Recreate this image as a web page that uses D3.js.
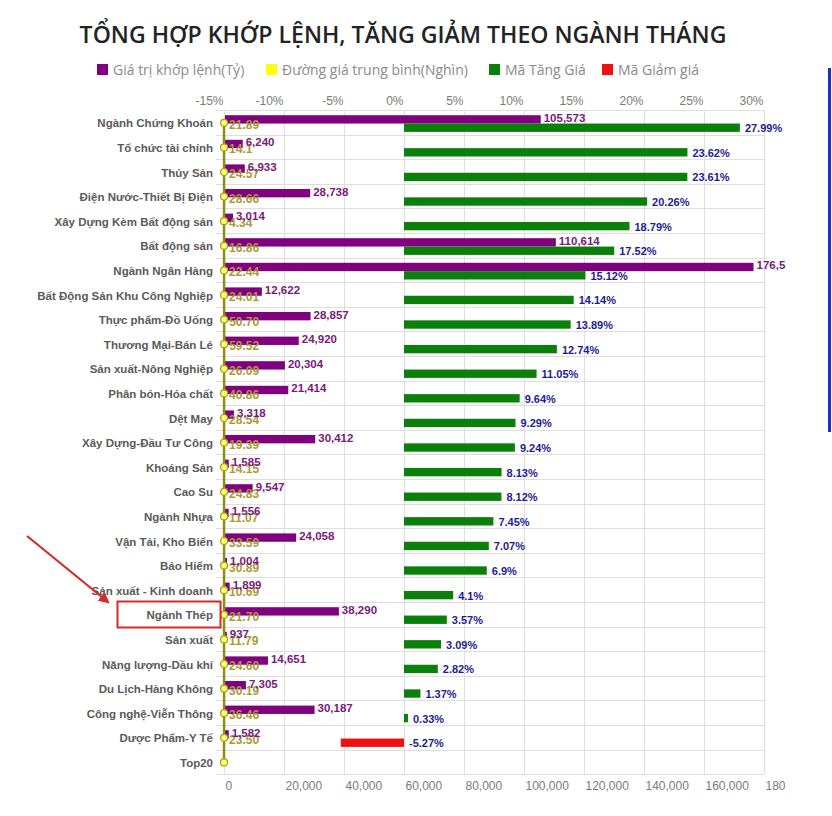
<!DOCTYPE html>
<html>
<head>
<meta charset="utf-8">
<script src="https://cdn.jsdelivr.net/npm/d3@7/dist/d3.min.js"></script>
<style>
  html, body { margin: 0; padding: 0; background: #fff; }
  svg { display: block; }
</style>
</head>
<body>
<svg id="chart" width="832" height="816"></svg>
<script>
// ---------------- DATA ----------------
const title = "TỔNG HỢP KHỚP LỆNH, TĂNG GIẢM THEO NGÀNH THÁNG";
const legendLabels = ["Giá trị khớp lệnh(Tỷ)", "Đường giá trung bình(Nghìn)", "Mã Tăng Giá", "Mã Giảm giá"];
const legendColors = ["#800080", "#ffff00", "#0a800a", "#ee1111"];

const categories = [
  "Ngành Chứng Khoán", "Tổ chức tài chính", "Thủy Sản", "Điện Nước-Thiết Bị Điện",
  "Xây Dựng Kèm Bất động sản", "Bất động sản", "Ngành Ngân Hàng", "Bất Động Sản Khu Công Nghiệp",
  "Thực phẩm-Đồ Uống", "Thương Mại-Bán Lẻ", "Sản xuất-Nông Nghiệp", "Phân bón-Hóa chất",
  "Dệt May", "Xây Dựng-Đầu Tư Công", "Khoáng Sản", "Cao Su", "Ngành Nhựa",
  "Vận Tải, Kho Biển", "Bảo Hiểm", "Sản xuất - Kinh doanh", "Ngành Thép", "Sản xuất",
  "Năng lượng-Dầu khí", "Du Lịch-Hàng Không", "Công nghệ-Viễn Thông", "Dược Phẩm-Y Tế", "Top20"
];
const matchValue = [
  105573, 6240, 6933, 28738, 3014, 110614, 176512, 12622, 28857, 24920, 20304, 21414,
  3318, 30412, 1585, 9547, 1556, 24058, 1004, 1899, 38290, 937, 14651, 7305, 30187, 1582, null
];
const avgPrice = [
  21.89, 14.1, 24.57, 28.66, 4.34, 16.86, 22.44, 24.01, 50.70, 59.52, 26.09, 40.86,
  28.54, 19.39, 14.15, 24.83, 11.07, 33.59, 30.89, 10.69, 21.70, 11.79, 24.60, 30.19, 36.46, 23.50, 0
];
const changePct = [
  27.99, 23.62, 23.61, 20.26, 18.79, 17.52, 15.12, 14.14, 13.89, 12.74, 11.05, 9.64,
  9.29, 9.24, 8.13, 8.12, 7.45, 7.07, 6.9, 4.1, 3.57, 3.09, 2.82, 1.37, 0.33, -5.27, null
];
const pctTicks = [-15, -10, -5, 0, 5, 10, 15, 20, 25, 30];
const valTicks = [0, 20000, 40000, 60000, 80000, 100000, 120000, 140000, 160000, 180000];

// ---------------- LAYOUT ----------------
const svg = d3.select("#chart");
const plotL = 224, plotR = 764, plotT = 110, plotB = 774.2;

const xPct = d3.scaleLinear().domain([-15, 30]).range([plotL, plotR]);
const xVal = d3.scaleLinear().domain([0, 180000]).range([plotL, plotR]);
const y = d3.scaleBand().domain(categories).range([plotT, plotB]);
const sub = d3.scaleBand().domain(["val", "pct"]).range([5.2, 21.9]);

const rows = categories.map((c, i) => ({
  cat: c, val: matchValue[i], avg: avgPrice[i], pct: changePct[i]
}));

// Title
const t = svg.append("text")
  .attr("x", 403).attr("y", 43)
  .attr("text-anchor", "middle")
  .attr("font-family", "'Open Sans', 'Noto Sans', sans-serif")
  .attr("font-weight", 600)
  .attr("font-size", 22)
  .attr("fill", "#232323")
  .text(title);
const tw = t.node().getComputedTextLength();
t.attr("font-size", 22 * 647 / tw);

// Legend
const legendX = [97, 266, 489, 602];
const lg = svg.append("g");
legendLabels.forEach((lab, i) => {
  lg.append("rect").attr("x", legendX[i]).attr("y", 64).attr("width", 11).attr("height", 11)
    .attr("fill", legendColors[i]);
  lg.append("text").attr("x", legendX[i] + 16).attr("y", 75)
    .attr("font-family", "'Open Sans', 'Noto Sans', sans-serif")
    .attr("font-size", 14).attr("fill", "#8a8a8a").text(lab);
});

// Clip
svg.append("clipPath").attr("id", "clip").append("rect")
  .attr("x", 0).attr("y", 0).attr("width", 786).attr("height", 816);
const g = svg.append("g").attr("clip-path", "url(#clip)");

// Gridlines
const grid = g.append("g").attr("stroke", "#dedede").attr("stroke-width", 1);
grid.selectAll("line.v").data(pctTicks).join("line")
  .attr("x1", d => Math.round(xPct(d)) + 0.5).attr("x2", d => Math.round(xPct(d)) + 0.5)
  .attr("y1", plotT).attr("y2", plotB);
const hLines = categories.map(c => y(c)).concat([plotB]);
grid.selectAll("line.h").data(hLines).join("line")
  .attr("x1", 216).attr("x2", plotR)
  .attr("y1", d => Math.round(d) + 0.5).attr("y2", d => Math.round(d) + 0.5);

// Axes
const axisFont = "'Liberation Sans', Arial, sans-serif";
const topAxis = g.append("g").attr("transform", `translate(0,${plotT - 5})`)
  .call(d3.axisTop(xPct).tickValues(pctTicks).tickSize(0).tickFormat(d => d + "%"));
topAxis.select(".domain").remove();
topAxis.selectAll("text").attr("text-anchor", "end").attr("dx", -1).attr("dy", 0).attr("y", 0)
  .attr("font-family", axisFont).attr("font-size", 12).attr("fill", "#7a7a7a");

const botAxis = g.append("g").attr("transform", `translate(0,${plotB + 16})`)
  .call(d3.axisBottom(xVal).tickValues(valTicks).tickSize(0).tickFormat(d3.format(",")));
botAxis.select(".domain").remove();
botAxis.selectAll("text").attr("text-anchor", "start").attr("dx", 1).attr("y", 0).attr("dy", 0)
  .attr("font-family", axisFont).attr("font-size", 12).attr("fill", "#7a7a7a");

// Category labels
g.append("g").selectAll("text").data(rows).join("text")
  .attr("x", 213).attr("y", d => y(d.cat) + y.bandwidth() / 2 + 1)
  .attr("dominant-baseline", "central").attr("text-anchor", "end")
  .attr("font-family", axisFont).attr("font-weight", "bold").attr("font-size", 11.5)
  .attr("fill", "#5a5a5a").text(d => d.cat);

// Purple bars
const valRows = rows.filter(d => d.val != null);
g.append("g").selectAll("rect").data(valRows).join("rect")
  .attr("x", xVal(0) + 1).attr("y", d => y(d.cat) + sub("val"))
  .attr("width", d => Math.max(0, xVal(d.val) - xVal(0) - 1))
  .attr("height", sub.bandwidth())
  .attr("fill", "#800080");

// Green / red bars
const pctRows = rows.filter(d => d.pct != null);
g.append("g").selectAll("rect").data(pctRows).join("rect")
  .attr("x", d => xPct(Math.min(0, d.pct)))
  .attr("y", d => y(d.cat) + sub("pct"))
  .attr("width", d => Math.abs(xPct(d.pct) - xPct(0)))
  .attr("height", sub.bandwidth())
  .attr("fill", d => d.pct >= 0 ? "#0a800a" : "#ee1111");

// Average price line
const cy = d => y(d.cat) + y.bandwidth() / 2 + 0.5;
g.append("path").datum(rows)
  .attr("d", d3.line().x(d => xVal(d.avg)).y(cy))
  .attr("fill", "none").attr("stroke", "#8e8e14").attr("stroke-width", 2.5);

// Average price labels
const fmtAvg = v => (Math.round(v * 100) % 10 === 0 && Math.round(v * 100) % 100 !== 0 && v < 15) ? d3.format(".1f")(v) : d3.format(".2f")(v);
g.append("g").selectAll("text").data(rows.filter(d => d.avg > 0)).join("text")
  .attr("x", d => xVal(d.avg) + 5).attr("y", d => cy(d) + 2)
  .attr("dominant-baseline", "central")
  .attr("font-family", axisFont).attr("font-weight", "bold").attr("font-size", 12)
  .attr("fill", "#a89a34").text(d => fmtAvg(d.avg));

// Markers
g.append("g").selectAll("circle").data(rows).join("circle")
  .attr("cx", d => xVal(d.avg)).attr("cy", cy).attr("r", 3.5)
  .attr("fill", "#ffff66").attr("stroke", "#a0a020").attr("stroke-width", 1.2);

// Purple value labels
g.append("g").selectAll("text").data(valRows).join("text")
  .attr("x", d => xVal(d.val) + 3).attr("y", d => y(d.cat) + sub("val") + sub.bandwidth() / 2 - 1.5)
  .attr("dominant-baseline", "central")
  .attr("font-family", axisFont).attr("font-weight", "bold").attr("font-size", 11.5)
  .attr("fill", "#7a1a7a").text(d => d3.format(",")(d.val));

// Percent labels
g.append("g").selectAll("text").data(pctRows).join("text")
  .attr("x", d => xPct(Math.max(0, d.pct)) + 5).attr("y", d => y(d.cat) + sub("pct") + sub.bandwidth() / 2 + 0.5)
  .attr("dominant-baseline", "central")
  .attr("font-family", axisFont).attr("font-weight", "bold").attr("font-size", 11)
  .attr("fill", "#1c1c96").text(d => d.pct + "%");

// Annotation: red box and arrow
const defs = svg.append("defs");
defs.append("marker").attr("id", "arrow").attr("viewBox", "0 0 10 10")
  .attr("refX", 8).attr("refY", 5).attr("markerWidth", 5).attr("markerHeight", 5)
  .attr("orient", "auto")
  .append("path").attr("d", "M0,0 L10,5 L0,10 z").attr("fill", "#d42a2a");
svg.append("line").attr("x1", 27).attr("y1", 536).attr("x2", 108).attr("y2", 602)
  .attr("stroke", "#d42a2a").attr("stroke-width", 2.2).attr("marker-end", "url(#arrow)");
const thepY = y("Ngành Thép");
svg.append("rect").attr("x", 117.5).attr("y", thepY - 0.5).attr("width", 103).attr("height", 26)
  .attr("fill", "none").attr("stroke", "#d42a2a").attr("stroke-width", 2);

// Right blue border
svg.append("line").attr("x1", 829.5).attr("x2", 829.5).attr("y1", 68).attr("y2", 432)
  .attr("stroke", "#1c30c0").attr("stroke-width", 3);
</script>
</body>
</html>
